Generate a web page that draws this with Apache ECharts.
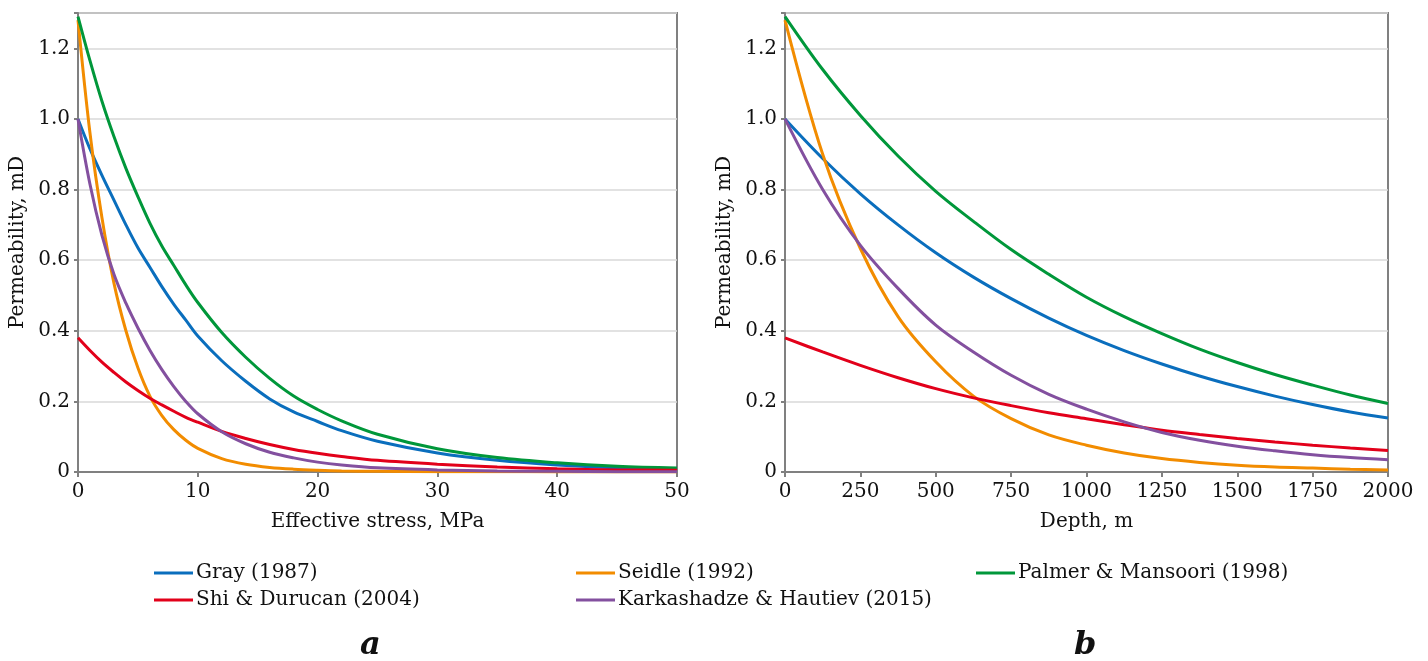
<!DOCTYPE html>
<html><head><meta charset="utf-8">
<script src="https://cdn.jsdelivr.net/npm/echarts@6/dist/echarts.min.js"></script>
<style>html,body{margin:0;padding:0;background:#fff}#c{width:1428px;height:661px}</style>
</head><body><div id="c"></div>
<script>
// ---- data ----
var seriesNames = ['Gray (1987)', 'Seidle (1992)', 'Palmer & Mansoori (1998)', 'Shi & Durucan (2004)', 'Karkashadze & Hautiev (2015)'];
var stress = [0,1,2,3,4,5,6,7,8,9,10,12,14,16,18,20,22,25,30,35,40,45,50];
var grayA   = [1.0,0.915,0.84,0.77,0.70,0.635,0.58,0.525,0.475,0.43,0.385,0.315,0.257,0.207,0.17,0.143,0.117,0.087,0.054,0.033,0.02,0.012,0.008];
var seidleA = [1.28,0.96,0.72,0.535,0.4,0.295,0.215,0.16,0.12,0.09,0.067,0.038,0.022,0.013,0.008,0.005,0.003,0.002,0.001,0.0005,0.0003,0.0002,0.0001];
var palmerA = [1.29,1.165,1.05,0.95,0.86,0.78,0.705,0.64,0.585,0.53,0.48,0.395,0.325,0.265,0.215,0.177,0.145,0.107,0.066,0.041,0.026,0.016,0.011];
var shiA    = [0.38,0.344,0.311,0.282,0.255,0.231,0.209,0.19,0.172,0.155,0.141,0.115,0.095,0.078,0.064,0.053,0.044,0.033,0.022,0.014,0.009,0.006,0.005];
var karkA   = [1.0,0.815,0.67,0.56,0.478,0.408,0.345,0.29,0.242,0.2,0.165,0.114,0.08,0.056,0.04,0.028,0.02,0.012,0.006,0.003,0.002,0.001,0.001];

var depth = [0,125,250,375,500,625,750,875,1000,1125,1250,1375,1500,1625,1750,1875,2000];
var grayB   = [1.0,0.888,0.788,0.70,0.621,0.552,0.491,0.436,0.387,0.344,0.306,0.272,0.242,0.215,0.191,0.17,0.153];
var seidleB = [1.28,0.9,0.633,0.44,0.312,0.215,0.151,0.105,0.076,0.054,0.038,0.027,0.019,0.014,0.011,0.008,0.006];
var palmerB = [1.29,1.14,1.01,0.895,0.795,0.71,0.63,0.56,0.495,0.44,0.392,0.348,0.31,0.276,0.246,0.218,0.194];
var shiB    = [0.38,0.34,0.302,0.267,0.236,0.21,0.188,0.168,0.151,0.134,0.118,0.106,0.095,0.085,0.076,0.068,0.061];
var karkB   = [1.0,0.8,0.642,0.52,0.416,0.34,0.274,0.22,0.178,0.142,0.112,0.09,0.073,0.06,0.049,0.041,0.035];

var colors = ['#0a6ebd', '#f28c00', '#00973a', '#e2001a', '#83509f'];
var FONT = 'DejaVu Serif';

function zip(xs, ys) { return xs.map(function (x, i) { return [x, ys[i]]; }); }

var setA = [grayA, seidleA, palmerA, shiA, karkA];
var setB = [grayB, seidleB, palmerB, shiB, karkB];
var series = [];
setA.forEach(function (d, i) {
  series.push({ name: seriesNames[i], type: 'line', xAxisIndex: 0, yAxisIndex: 0, data: zip(stress, d),
    smooth: 0.35, showSymbol: false, lineStyle: { width: 3, color: colors[i] }, itemStyle: { color: colors[i] } });
});
setB.forEach(function (d, i) {
  series.push({ name: seriesNames[i], type: 'line', xAxisIndex: 1, yAxisIndex: 1, data: zip(depth, d),
    smooth: 0.35, showSymbol: false, lineStyle: { width: 3, color: colors[i] }, itemStyle: { color: colors[i] } });
});

var axisCol = '#808080';
function yAxis(idx) {
  return { type: 'value', gridIndex: idx, min: 0, max: 1.3, interval: 0.2,
    name: 'Permeability, mD', nameLocation: 'middle', nameGap: 50,
    nameTextStyle: { fontFamily: FONT, fontSize: 20, color: '#111' },
    axisLine: { show: true, lineStyle: { color: axisCol, width: 2 } },
    axisTick: { show: true, length: 4, lineStyle: { color: axisCol, width: 2 } },
    axisLabel: { fontFamily: FONT, fontSize: 20, color: '#111', margin: 8,
      formatter: function (v) { if (v > 1.25) return ''; return v === 0 ? '0' : v.toFixed(1); } },
    splitLine: { show: true, lineStyle: { color: '#d9d9d9', width: 1.5 } } };
}
function xAxis(idx, max, interval, name) {
  return { type: 'value', gridIndex: idx, min: 0, max: max, interval: interval,
    name: name, nameLocation: 'middle', nameGap: 40,
    nameTextStyle: { fontFamily: FONT, fontSize: 20, color: '#111' },
    axisLine: { show: true, lineStyle: { color: axisCol, width: 2 } },
    axisTick: { show: true, length: 5, lineStyle: { color: axisCol, width: 2 } },
    axisLabel: { fontFamily: FONT, fontSize: 20, color: '#111', margin: 10,
      formatter: function (v) { return String(v); } },
    splitLine: { show: false } };
}
function legend(left, names) {
  return { orient: 'vertical', left: left, top: 558, itemGap: 7, itemWidth: 39, itemHeight: 3, icon: 'rect',
    data: names, textStyle: { fontFamily: FONT, fontSize: 20, color: '#111', padding: [0, 0, 0, -2] } };
}

var chart = echarts.init(document.getElementById('c'));
chart.setOption({
  animation: false,
  backgroundColor: '#fff',
  grid: [
    { left: 78, top: 13, width: 599, height: 459, show: true, borderColor: axisCol, borderWidth: 2 },
    { left: 785, top: 13, width: 603, height: 459, show: true, borderColor: axisCol, borderWidth: 2 }
  ],
  xAxis: [xAxis(0, 50, 10, 'Effective stress, MPa'), xAxis(1, 2000, 250, 'Depth, m')],
  yAxis: [yAxis(0), yAxis(1)],
  legend: [
    legend(149, [seriesNames[0], seriesNames[3]]),
    legend(571, [seriesNames[1], seriesNames[4]]),
    legend(971, [seriesNames[2]])
  ],
  graphic: [
    { type: 'text', left: 360, top: 630, style: { text: 'a', font: 'italic bold 32px "DejaVu Serif"', fill: '#111' } },
    { type: 'text', left: 1074, top: 630, style: { text: 'b', font: 'italic bold 32px "DejaVu Serif"', fill: '#111' } }
  ],
  series: series
});
</script></body></html>
